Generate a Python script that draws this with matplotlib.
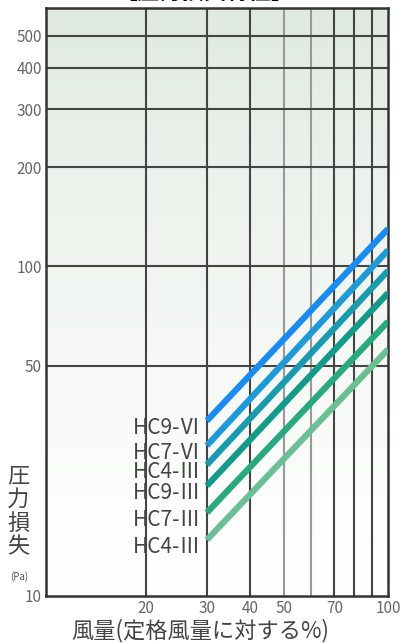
import matplotlib
matplotlib.use("Agg")
import matplotlib.pyplot as plt
import numpy as np

plt.rcParams['font.family'] = ['Noto Sans CJK JP', 'DejaVu Sans']

# flow rate (% of rated) at both ends of each line
flow = [30, 100]
models = ['HC9-Ⅵ', 'HC7-Ⅵ', 'HC4-Ⅲ', 'HC9-Ⅲ', 'HC7-Ⅲ', 'HC4-Ⅲ']
# pressure loss (Pa) at 30% and 100%
loss_start = [34, 28.6, 25, 21.6, 17.9, 14.8]
loss_end = [130, 112, 97, 83, 68, 56]
colors = ['#1a8cf0', '#1f9ad6', '#1a9aae', '#139a88', '#2aa882', '#6cbf94']

x_ticks = [20, 30, 40, 50, 70, 100]
x_grid = [20, 30, 40, 50, 60, 70, 80, 90]
y_ticks = [10, 50, 100, 200, 300, 400, 500]
y_grid = [50, 100, 200, 300, 400, 500]

fig = plt.figure(figsize=(4.01, 6.43), dpi=100)
ax = fig.add_axes([0.1147, 0.0731, 0.853, 0.9145])
ax.set_xscale('log')
ax.set_yscale('log')
ax.set_xlim(10.3, 100)
ax.set_ylim(10, 608)

# background gradient, light green at the top fading to white
grad = np.linspace(0, 1, 256).reshape(-1, 1) ** 1.3
cmap = matplotlib.colors.LinearSegmentedColormap.from_list('bg', ['#ffffff', '#e0eae0'])
ax.imshow(grad, aspect='auto', cmap=cmap, extent=[0, 1, 0, 1],
          transform=ax.transAxes, origin='lower', zorder=0)

for gx in x_grid:
    c = '#999999' if gx in (50, 60) else '#444444'
    ax.axvline(gx, color=c, lw=1.5, zorder=1)
for gy in y_grid:
    ax.axhline(gy, color='#444444', lw=1.5, zorder=1)

for i in range(len(models)):
    ax.plot(flow, [loss_start[i], loss_end[i]], color=colors[i], lw=4.5,
            solid_capstyle='butt', zorder=3)
    ax.annotate(models[i], (flow[0], loss_start[i]), xytext=(-4, -5),
                textcoords='offset points', ha='right', va='center',
                fontsize=15, color='#444444')

ax.set_xticks(x_ticks)
ax.set_xticklabels([str(v) for v in x_ticks])
ax.set_xticks([], minor=True)
ax.set_yticks(y_ticks)
ax.set_yticklabels([str(v) for v in y_ticks])
ax.set_yticks([], minor=True)
ax.tick_params(length=0, labelsize=11, labelcolor='#666666', pad=3)

for s in ax.spines.values():
    s.set_color('#333333')
    s.set_linewidth(1.8)

# vertical y-axis label
fig.text(0.045, 0.205, '圧\n力\n損\n失', ha='center', va='center',
         fontsize=16, color='#444444', linespacing=1.05)
fig.text(0.048, 0.104, '(Pa)', ha='center', va='center', fontsize=7,
         color='#555555')
fig.text(0.5, 0.02, '風量(定格風量に対する%)', ha='center', va='center',
         fontsize=16, color='#444444')
# title, clipped by the top edge as in the original
fig.text(0.51, 1.012, '【圧力損失特性】', ha='center', va='center',
         fontsize=16, fontweight='bold', color='black')

fig.savefig('out.png', dpi=100)
